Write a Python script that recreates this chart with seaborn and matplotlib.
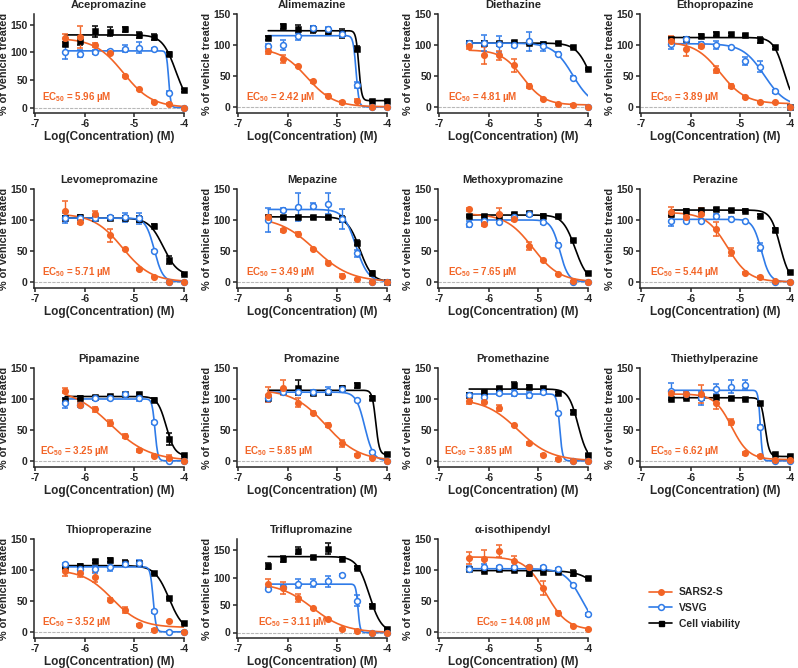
import numpy as np
import pandas as pd
import matplotlib
matplotlib.use("Agg")
import matplotlib.pyplot as plt
from matplotlib.lines import Line2D
import seaborn as sns

# ---------------- data ----------------
LOG_CONC = [-6.4, -6.1, -5.8, -5.5, -5.2, -4.9, -4.6, -4.3, -4.0]
DRUGS = ["Acepromazine", "Alimemazine", "Diethazine", "Ethopropazine",
         "Levomepromazine", "Mepazine", "Methoxypromazine", "Perazine",
         "Pipamazine", "Promazine", "Promethazine", "Thiethylperazine",
         "Thioproperazine", "Triflupromazine", "α-isothipendyl"]
EC50_LABELS = ["5.96", "2.42", "4.81", "3.89", "5.71", "3.49", "7.65", "5.44",
               "3.25", "5.85", "3.85", "6.62", "3.52", "3.11", "14.08"]
Y_TOP = [170, 150, 150, 150, 150, 150, 150, 150, 150, 150, 150, 150, 150, 170, 150]
EC50_X = [0.05, 0.06, 0.07, 0.07, 0.05, 0.06, 0.07, 0.07, 0.04, 0.05, 0.04, 0.07, 0.05, 0.14, 0.25]
SERIES = ["SARS2-S", "VSVG", "Cell viability"]

# SARS2-S (mean, sem), VSVG (mean, sem), Cell viability (mean, sem)
acepromazine_sars = [126, 128, 114, 99, 58, 33, 10, 7, 0]
acepromazine_sars_err = [8, 20, 4, 3, 2, 2, 2, 2, 1]
acepromazine_vsvg = [101, 98, 101, 102, 107, 109, 106, 27, 0]
acepromazine_vsvg_err = [12, 6, 3, 3, 6, 10, 2, 3, 1]
acepromazine_cell = [116, 121, 139, 138, 142, 132, 128, 97, 31]
acepromazine_cell_err = [4, 8, 10, 8, 5, 5, 5, 3, 2]

alimemazine_sars = [91, 77, 66, 41, 18, 7, 10, 0, 0]
alimemazine_sars_err = [6, 6, 2, 2, 2, 2, 2, 1, 1]
alimemazine_vsvg = [98, 100, 114, 127, 126, 118, 35, 0, 0]
alimemazine_vsvg_err = [4, 8, 6, 4, 3, 5, 5, 1, 1]
alimemazine_cell = [111, 130, 126, 125, 122, 119, 94, 10, 10]
alimemazine_cell_err = [3, 4, 6, 6, 5, 7, 4, 1, 1]

diethazine_sars = [98, 83, 83, 67, 34, 13, 5, 3, 0]
diethazine_sars_err = [4, 14, 7, 10, 3, 2, 1, 1, 1]
diethazine_vsvg = [103, 103, 102, 100, 106, 98, 86, 47, 0]
diethazine_vsvg_err = [3, 13, 13, 4, 15, 7, 2, 2, 1]
diethazine_cell = [103, 103, 103, 104, 103, 102, 103, 97, 61]
diethazine_cell_err = [2, 3, 2, 2, 2, 2, 2, 2, 2]

ethopropazine_sars = [106, 94, 98, 60, 34, 16, 8, 7, 0]
ethopropazine_sars_err = [8, 12, 3, 6, 3, 2, 1, 1, 1]
ethopropazine_vsvg = [101, 110, 102, 100, 96, 74, 65, 25, 0]
ethopropazine_vsvg_err = [8, 3, 3, 6, 2, 6, 9, 2, 1]
ethopropazine_cell = [110, 110, 114, 118, 117, 116, 108, 96, 0]
ethopropazine_cell_err = [3, 3, 3, 3, 2, 2, 5, 2, 1]

levomepromazine_sars = [115, 97, 109, 75, 53, 21, 8, 0, 0]
levomepromazine_sars_err = [16, 4, 5, 10, 2, 2, 1, 1, 1]
levomepromazine_vsvg = [103, 103, 103, 104, 104, 103, 50, 0, 0]
levomepromazine_vsvg_err = [8, 3, 3, 3, 8, 9, 2, 1, 1]
levomepromazine_cell = [103, 105, 103, 103, 103, 101, 91, 35, 13]
levomepromazine_cell_err = [3, 3, 3, 3, 3, 5, 3, 7, 2]

mepazine_sars = [104, 83, 78, 53, 31, 10, 4, 0, 0]
mepazine_sars_err = [4, 2, 2, 2, 2, 2, 1, 1, 1]
mepazine_vsvg = [100, 116, 121, 123, 126, 101, 46, 0, 0]
mepazine_vsvg_err = [20, 3, 22, 4, 17, 16, 6, 1, 1]
mepazine_cell = [104, 104, 104, 104, 104, 101, 63, 15, 0]
mepazine_cell_err = [3, 2, 2, 2, 2, 5, 4, 2, 1]

methoxypromazine_sars = [117, 93, 110, 102, 58, 35, 12, 1, 0]
methoxypromazine_sars_err = [3, 2, 9, 3, 7, 2, 1, 1, 1]
methoxypromazine_vsvg = [93, 98, 97, 104, 109, 97, 60, 0, 0]
methoxypromazine_vsvg_err = [5, 2, 2, 3, 2, 4, 2, 1, 1]
methoxypromazine_cell = [106, 106, 107, 110, 111, 107, 106, 68, 14]
methoxypromazine_cell_err = [2, 2, 2, 2, 2, 2, 2, 2, 2]

perazine_sars = [113, 104, 110, 85, 48, 14, 7, 1, 0]
perazine_sars_err = [8, 3, 10, 11, 6, 2, 2, 1, 1]
perazine_vsvg = [98, 99, 99, 106, 102, 98, 56, 0, 0]
perazine_vsvg_err = [7, 2, 3, 3, 2, 2, 6, 1, 1]
perazine_cell = [110, 115, 116, 117, 116, 115, 107, 84, 16]
perazine_cell_err = [3, 2, 2, 2, 2, 2, 2, 3, 2]

pipamazine_sars = [113, 91, 83, 61, 40, 17, 8, 5, 0]
pipamazine_sars_err = [4, 4, 4, 5, 3, 2, 1, 5, 1]
pipamazine_vsvg = [93, 90, 101, 101, 108, 102, 62, 0, 0]
pipamazine_vsvg_err = [8, 3, 2, 2, 2, 5, 2, 1, 1]
pipamazine_cell = [98, 102, 103, 105, 108, 108, 99, 35, 9]
pipamazine_cell_err = [3, 2, 2, 2, 2, 2, 2, 10, 2]

promazine_sars = [107, 118, 94, 78, 58, 28, 9, 5, 0]
promazine_sars_err = [12, 12, 7, 3, 3, 5, 2, 1, 1]
promazine_vsvg = [101, 112, 112, 112, 113, 116, 98, 14, 0]
promazine_vsvg_err = [6, 3, 3, 3, 7, 3, 2, 2, 1]
promazine_cell = [101, 113, 118, 110, 112, 118, 122, 102, 11]
promazine_cell_err = [3, 3, 12, 3, 3, 3, 4, 3, 2]

promethazine_sars = [97, 95, 85, 58, 28, 10, 3, 0, 0]
promethazine_sars_err = [5, 2, 5, 2, 2, 1, 1, 1, 1]
promethazine_vsvg = [106, 103, 109, 109, 106, 111, 77, 0, 0]
promethazine_vsvg_err = [2, 2, 2, 5, 5, 3, 2, 1, 1]
promethazine_cell = [107, 111, 117, 122, 120, 117, 109, 79, 9]
promethazine_cell_err = [2, 2, 3, 6, 3, 3, 2, 3, 2]

thiethylperazine_sars = [110, 108, 108, 93, 63, 12, 8, 2, 2]
thiethylperazine_sars_err = [3, 3, 15, 9, 5, 2, 1, 1, 1]
thiethylperazine_vsvg = [113, 108, 101, 116, 120, 123, 55, 0, 0]
thiethylperazine_vsvg_err = [12, 3, 10, 8, 10, 7, 3, 1, 1]
thiethylperazine_cell = [100, 102, 103, 103, 101, 100, 93, 11, 7]
thiethylperazine_cell_err = [2, 2, 2, 2, 2, 2, 2, 2, 2]

thioproperazine_sars = [99, 95, 89, 52, 35, 11, 3, 17, 0]
thioproperazine_sars_err = [8, 7, 8, 2, 5, 2, 1, 1, 1]
thioproperazine_vsvg = [110, 102, 101, 105, 109, 112, 33, 0, 0]
thioproperazine_vsvg_err = [2, 3, 6, 6, 3, 4, 2, 1, 1]
thioproperazine_cell = [105, 107, 114, 116, 112, 112, 95, 55, 14]
thioproperazine_cell_err = [2, 2, 2, 3, 4, 3, 2, 2, 2]

triflupromazine_sars = [89, 81, 63, 45, 24, 7, 3, 0, 0]
triflupromazine_sars_err = [8, 11, 7, 2, 2, 1, 1, 1, 1]
triflupromazine_vsvg = [80, 83, 89, 90, 93, 104, 58, 0, 0]
triflupromazine_vsvg_err = [3, 3, 8, 7, 10, 2, 10, 1, 1]
triflupromazine_cell = [121, 134, 149, 137, 152, 134, 118, 49, 7]
triflupromazine_cell_err = [6, 6, 6, 3, 10, 3, 3, 2, 2]

isothipendyl_sars = [119, 117, 131, 114, 104, 71, 31, 10, 4]
isothipendyl_sars_err = [10, 16, 10, 8, 3, 11, 3, 1, 1]
isothipendyl_vsvg = [102, 104, 104, 104, 104, 104, 101, 76, 28]
isothipendyl_vsvg_err = [4, 5, 3, 3, 3, 2, 2, 2, 2]
isothipendyl_cell = [101, 99, 101, 100, 95, 97, 97, 95, 87]
isothipendyl_cell_err = [2, 2, 2, 2, 5, 2, 2, 5, 2]

# fitted 4-parameter curves: [top, bottom, logEC50, hill slope]
acepromazine_fit = [[126, 0, -5.225, 1.5], [103, 0, -4.31, 20], [132, 0, -4.165, 3.2]]
alimemazine_fit = [[95, 0, -5.616, 1.6], [115, 0, -4.625, 15], [123, 10, -4.57, 15]]
diethazine_fit = [[92, 3, -5.318, 2.0], [103, 0, -4.31, 2.2], [103, 0, -3.95, 3.0]]
ethopropazine_fit = [[105, 5, -5.41, 1.7], [102, 0, -4.52, 2.0], [112, 0, -4.12, 4.0]]
levomepromazine_fit = [[110, 0, -5.243, 1.5], [103, 0, -4.6, 5], [103, 10, -4.42, 3]]
mepazine_fit = [[105, 0, -5.457, 1.2], [117, 0, -4.63, 3.5], [105, 0, -4.55, 3.5]]
methoxypromazine_fit = [[110, 0, -5.116, 1.6], [100, 0, -4.57, 5], [108, 0, -4.26, 3.5]]
perazine_fit = [[112, 0, -5.264, 2.0], [101, 0, -4.58, 5], [116, 0, -4.2, 4.5]]
pipamazine_fit = [[118, 0, -5.488, 1.1], [100, 0, -4.586, 15], [104, 8, -4.36, 5]]
promazine_fit = [[115, 0, -5.233, 1.3], [111, 0, -4.45, 5], [114, 10, -4.227, 12]]
promethazine_fit = [[100, 0, -5.415, 1.3], [108, 0, -4.573, 15], [116, 0, -4.2, 4.5]]
thiethylperazine_fit = [[108, 2, -5.179, 2.5], [114, 0, -4.6, 20], [102, 7, -4.504, 10]]
thioproperazine_fit = [[100, 7, -5.453, 1.5], [105, 0, -4.623, 15], [107, 0, -4.3, 3]]
triflupromazine_fit = [[90, 0, -5.507, 1.3], [88, 0, -4.586, 20], [138, 0, -4.36, 3.5]]
isothipendyl_fit = [[121, 3, -4.851, 2.0], [102, 0, -4.12, 2.5], [99, 0, -3.6, 2.0]]

PANELS = [
    (acepromazine_sars, acepromazine_sars_err, acepromazine_vsvg, acepromazine_vsvg_err, acepromazine_cell, acepromazine_cell_err, acepromazine_fit),
    (alimemazine_sars, alimemazine_sars_err, alimemazine_vsvg, alimemazine_vsvg_err, alimemazine_cell, alimemazine_cell_err, alimemazine_fit),
    (diethazine_sars, diethazine_sars_err, diethazine_vsvg, diethazine_vsvg_err, diethazine_cell, diethazine_cell_err, diethazine_fit),
    (ethopropazine_sars, ethopropazine_sars_err, ethopropazine_vsvg, ethopropazine_vsvg_err, ethopropazine_cell, ethopropazine_cell_err, ethopropazine_fit),
    (levomepromazine_sars, levomepromazine_sars_err, levomepromazine_vsvg, levomepromazine_vsvg_err, levomepromazine_cell, levomepromazine_cell_err, levomepromazine_fit),
    (mepazine_sars, mepazine_sars_err, mepazine_vsvg, mepazine_vsvg_err, mepazine_cell, mepazine_cell_err, mepazine_fit),
    (methoxypromazine_sars, methoxypromazine_sars_err, methoxypromazine_vsvg, methoxypromazine_vsvg_err, methoxypromazine_cell, methoxypromazine_cell_err, methoxypromazine_fit),
    (perazine_sars, perazine_sars_err, perazine_vsvg, perazine_vsvg_err, perazine_cell, perazine_cell_err, perazine_fit),
    (pipamazine_sars, pipamazine_sars_err, pipamazine_vsvg, pipamazine_vsvg_err, pipamazine_cell, pipamazine_cell_err, pipamazine_fit),
    (promazine_sars, promazine_sars_err, promazine_vsvg, promazine_vsvg_err, promazine_cell, promazine_cell_err, promazine_fit),
    (promethazine_sars, promethazine_sars_err, promethazine_vsvg, promethazine_vsvg_err, promethazine_cell, promethazine_cell_err, promethazine_fit),
    (thiethylperazine_sars, thiethylperazine_sars_err, thiethylperazine_vsvg, thiethylperazine_vsvg_err, thiethylperazine_cell, thiethylperazine_cell_err, thiethylperazine_fit),
    (thioproperazine_sars, thioproperazine_sars_err, thioproperazine_vsvg, thioproperazine_vsvg_err, thioproperazine_cell, thioproperazine_cell_err, thioproperazine_fit),
    (triflupromazine_sars, triflupromazine_sars_err, triflupromazine_vsvg, triflupromazine_vsvg_err, triflupromazine_cell, triflupromazine_cell_err, triflupromazine_fit),
    (isothipendyl_sars, isothipendyl_sars_err, isothipendyl_vsvg, isothipendyl_vsvg_err, isothipendyl_cell, isothipendyl_cell_err, isothipendyl_fit),
]

# ---------------- style ----------------
ORANGE = "#F26426"
BLUE = "#2F7BE8"
BLACK = "#000000"
PALETTE = {"SARS2-S": ORANGE, "VSVG": BLUE, "Cell viability": BLACK}

sns.set_theme(style="ticks")
plt.rcParams.update({
    "font.family": ["Liberation Sans", "DejaVu Sans"],
    "font.weight": "bold",
    "axes.labelweight": "bold",
    "axes.titleweight": "bold",
    "axes.linewidth": 1.1,
    "xtick.major.width": 1.1,
    "ytick.major.width": 1.1,
    "xtick.major.size": 3,
    "ytick.major.size": 3,
    "xtick.major.pad": 1.5,
    "ytick.major.pad": 1.5,
    "xtick.labelsize": 7.5,
    "ytick.labelsize": 7.5,
    "mathtext.fontset": "custom",
    "mathtext.rm": "Liberation Sans:bold",
    "mathtext.bf": "Liberation Sans:bold",
    "mathtext.default": "bf",
})


def hill(x, p):
    top, bottom, logc, h = p
    return bottom + (top - bottom) / (1.0 + 10.0 ** ((x - logc) * h))


W, H = 798, 668
fig = plt.figure(figsize=(W / 100, H / 100), dpi=100)

col_left = [34, 237, 438, 640]
row_bottom = [113, 288, 467, 638]
ax_w, ax_h = 150, 99

xs = np.linspace(LOG_CONC[0], LOG_CONC[-1], 400)

for i, (name, ec50, panel) in enumerate(zip(DRUGS, EC50_LABELS, PANELS)):
    r, c = divmod(i, 4)
    ax = fig.add_axes([col_left[c] / W, 1 - row_bottom[r] / H, ax_w / W, ax_h / H])
    sars, sars_e, vsvg, vsvg_e, cell, cell_e, fits = panel

    ax.axhline(0, color="#b8b8b8", lw=0.8, ls=(0, (3, 1)), zorder=0)

    curve_df = pd.concat([
        pd.DataFrame({"x": xs, "y": hill(xs, fits[k]), "series": SERIES[k]})
        for k in (2, 1, 0)
    ], ignore_index=True)
    sns.lineplot(data=curve_df, x="x", y="y", hue="series", palette=PALETTE,
                 hue_order=["Cell viability", "VSVG", "SARS2-S"], legend=False,
                 ax=ax, lw=1.2, estimator=None, sort=False)

    pts = [(cell, cell_e, BLACK, "s", BLACK, 3.6),
           (vsvg, vsvg_e, BLUE, "o", "white", 4.2),
           (sars, sars_e, ORANGE, "o", ORANGE, 4.0)]
    for vals, errs, col, mk, mfc, ms in pts:
        ax.errorbar(LOG_CONC, vals, yerr=errs, fmt=mk, color=col, mfc=mfc,
                    mec=col, mew=1.1, ms=ms, capsize=2.2, elinewidth=1.0,
                    capthick=1.0, clip_on=False, zorder=4)

    ax.set_xlim(-7.03, -4.0)
    ax.set_ylim(-10, Y_TOP[i])
    ax.set_xticks([-7, -6, -5, -4])
    ax.set_xticklabels(["-7", "-6", "-5", "-4"])
    ax.set_yticks([0, 50, 100, 150])
    sns.despine(ax=ax)
    ax.set_title(name, fontsize=8, fontweight="bold", pad=4)
    ax.set_xlabel("Log(Concentration) (M)", fontsize=8.5, labelpad=1)
    ax.set_ylabel("% of vehicle treated", fontsize=7.8, labelpad=1)
    ax.text(EC50_X[i], 0.16, r"EC$_{50}$ = " + ec50 + " µM", transform=ax.transAxes,
            color=ORANGE, fontsize=7, fontweight="bold", ha="left", va="center")

handles = [
    Line2D([], [], color=ORANGE, lw=1.2, marker="o", ms=4.0, mfc=ORANGE, mec=ORANGE),
    Line2D([], [], color=BLUE, lw=1.2, marker="o", ms=4.2, mfc="white", mec=BLUE, mew=1.1),
    Line2D([], [], color=BLACK, lw=1.2, marker="s", ms=3.6, mfc=BLACK, mec=BLACK),
]
fig.legend(handles, SERIES, loc="upper left", bbox_to_anchor=(640 / W, 1 - 578 / H),
           frameon=False, fontsize=7.5, handlelength=2.2, handletextpad=0.6,
           labelspacing=0.55, prop={"weight": "bold", "size": 7.5})

fig.savefig("out.png", dpi=100)
